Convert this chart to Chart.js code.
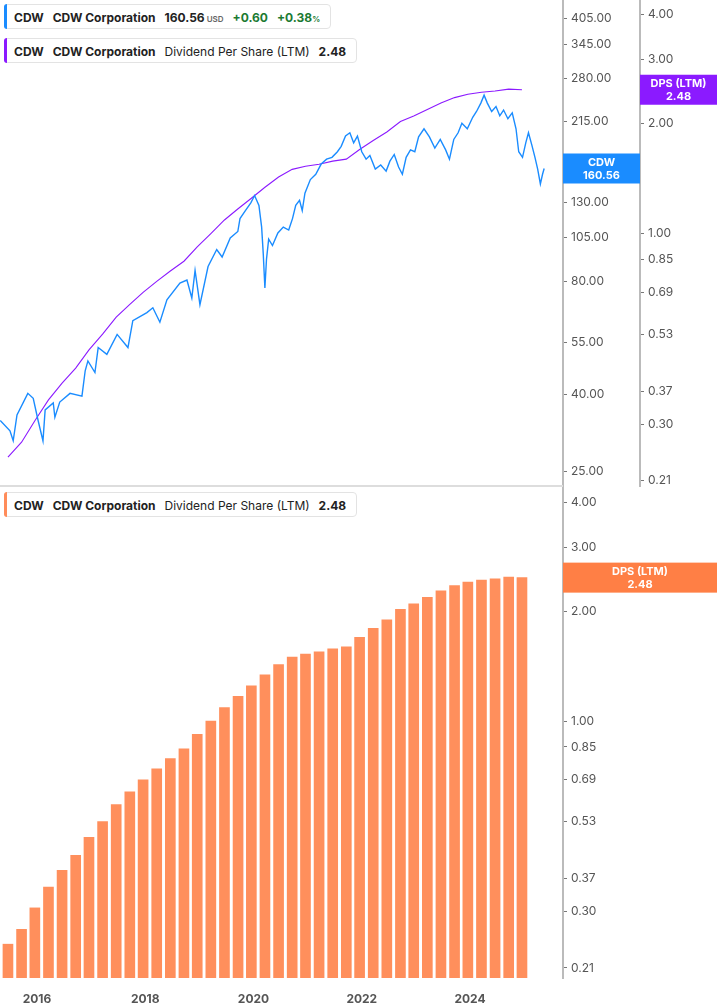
<!DOCTYPE html>
<html><head><meta charset="utf-8">
<script src="https://cdn.jsdelivr.net/npm/chart.js@4.4.1/dist/chart.umd.min.js"></script>
<style>
body{margin:0;background:#fff;font-family:Inter,"Noto Sans",sans-serif;width:717px;height:1005px;overflow:hidden;position:relative}
.c{position:absolute;left:0}
.hdr{position:absolute;left:4px;height:25px;border:1px solid #e3e3e3;border-radius:4px;background:#fff;font-size:12px;line-height:25px;color:#222;white-space:nowrap;padding:0 10px 0 9px;box-sizing:border-box}
.hdr:before{content:"";position:absolute;left:-1px;top:-1px;bottom:-1px;width:3px;border-radius:3px 0 0 3px;background:var(--c)}
.hdr span{margin-right:9px}.hdr span:last-child{margin-right:0}
.b{font-weight:700}.g{color:#1b7a33;font-weight:700}.s{font-size:8px;color:#666;font-weight:600}
</style></head><body>
<canvas id="top" class="c" style="top:0" width="717" height="487"></canvas>
<canvas id="bot" class="c" style="top:487px" width="717" height="518"></canvas>
<div class="hdr" style="top:4px;--c:#1a8cff"><span class="b">CDW</span><span class="b">CDW Corporation</span><span class="b" style="margin-right:2px">160.56</span><span class="s">USD</span><span class="g">+0.60</span><span class="g" style="margin-right:0">+0.38</span><span class="s" style="color:#1b7a33">%</span></div>
<div class="hdr" style="top:38px;--c:#8b1aff"><span class="b">CDW</span><span class="b">CDW Corporation</span><span>Dividend Per Share (LTM)</span><span class="b">2.48</span></div>
<div class="hdr" style="top:492px;--c:#ff8c5a"><span class="b">CDW</span><span class="b">CDW Corporation</span><span>Dividend Per Share (LTM)</span><span class="b">2.48</span></div>
<script>
const priceDates=[2015.32,2015.50,2015.56,2015.63,2015.83,2015.93,2016.02,2016.11,2016.15,2016.30,2016.33,2016.42,2016.61,2016.83,2016.89,2016.94,2017.07,2017.13,2017.29,2017.48,2017.68,2017.77,2018.03,2018.14,2018.27,2018.40,2018.64,2018.77,2018.86,2018.92,2019.01,2019.16,2019.32,2019.42,2019.57,2019.71,2019.75,2019.85,2019.95,2020.02,2020.10,2020.15,2020.18,2020.21,2020.24,2020.28,2020.35,2020.45,2020.55,2020.65,2020.72,2020.78,2020.85,2020.90,2020.95,2021.05,2021.15,2021.25,2021.35,2021.45,2021.55,2021.62,2021.70,2021.78,2021.85,2021.92,2022.00,2022.08,2022.15,2022.25,2022.35,2022.45,2022.52,2022.60,2022.68,2022.75,2022.82,2022.90,2022.98,2023.05,2023.15,2023.25,2023.35,2023.45,2023.55,2023.62,2023.70,2023.78,2023.85,2023.95,2024.05,2024.12,2024.20,2024.26,2024.32,2024.40,2024.48,2024.55,2024.62,2024.70,2024.78,2024.85,2024.90,2024.97,2025.03,2025.08,2025.14,2025.20,2025.25,2025.30,2025.34,2025.37];
const priceValues=[34.1,32.0,30.1,35.3,40.3,39.1,34.1,30.1,36.4,38.0,34.8,38.2,40.3,39.6,46.3,49.2,45.8,53.4,51.2,57.9,53.4,63.0,66.2,68.2,62.4,71.6,79.4,80.9,72.4,85.8,69.5,87.9,97.6,93.2,104.7,109,118,124,130,136,128,112,95,77,92,104,100,108,112,110,118,128,132,124,138,150,155,165,170,172,178,184,196,200,188,196,178,170,174,160,164,158,168,175,162,155,172,180,178,195,205,195,182,192,180,170,192,200,212,205,220,228,240,252,240,228,235,222,230,218,226,205,178,172,188,200,186,172,160,146,155,160.56];
const dpsQuarters=['2015Q3','2015Q4','2016Q1','2016Q2','2016Q3','2016Q4','2017Q1','2017Q2','2017Q3','2017Q4','2018Q1','2018Q2','2018Q3','2018Q4','2019Q1','2019Q2','2019Q3','2019Q4','2020Q1','2020Q2','2020Q3','2020Q4','2021Q1','2021Q2','2021Q3','2021Q4','2022Q1','2022Q2','2022Q3','2022Q4','2023Q1','2023Q2','2023Q3','2023Q4','2024Q1','2024Q2','2024Q3','2024Q4','2025Q1'];
const dpsValues=[0.244,0.268,0.307,0.35,0.389,0.428,0.48,0.53,0.59,0.64,0.69,0.74,0.79,0.84,0.92,1.00,1.09,1.17,1.25,1.34,1.43,1.50,1.53,1.55,1.58,1.60,1.70,1.80,1.90,2.03,2.10,2.19,2.28,2.36,2.41,2.44,2.46,2.49,2.48];
const priceTicks=[25,40,55,80,105,130,215,280,345,405];
const dpsTicks=[0.21,0.30,0.37,0.53,0.69,0.85,1.00,2.00,3.00,4.00];
const yearTicks=[2016,2018,2020,2022,2024];

const qYear=q=>+q.slice(0,4)+(+q.slice(5)-1)*0.2515-0.04;
const dpsPts=dpsQuarters.map((q,i)=>({x:qYear(q),y:dpsValues[i]}));
const pricePts=priceDates.map((d,i)=>({x:d,y:priceValues[i]}));
const XMIN=2015.316,XMAX=2025.718;
const F='Inter, "Noto Sans", sans-serif';
const tickFont={family:F,size:12};
function fix(w){return function(s){s.width=w;s.paddingTop=0;s.paddingBottom=0;};}
function setTicks(arr){return function(s){s.ticks=arr.map(v=>({value:v}));};}
const axisBase=(min,max,ticks,w)=>({type:'logarithmic',position:'right',min,max,
  afterBuildTicks:setTicks(ticks),afterFit:fix(w),
  grid:{display:true,drawOnChartArea:false,drawTicks:true,tickLength:4,color:'#777'},
  border:{display:true,color:'#bbb',width:2},
  ticks:{autoSkip:false,padding:4,color:'#555',font:tickFont,callback:v=>(+v).toFixed(2)}});
function badge(ctx,x,w,y,color,l1,l2){
  ctx.save();ctx.fillStyle=color;ctx.fillRect(x,y-15,w,30);
  ctx.fillStyle='#fff';ctx.font='bold 11px '+F;ctx.textAlign='center';ctx.textBaseline='middle';
  ctx.fillText(l1,x+w/2,y-6);ctx.fillText(l2,x+w/2,y+7);ctx.restore();}
const badgesTop={id:'bt',afterDraw(c){const ctx=c.ctx;
  const sy=c.scales.y.getPixelForValue(160.56);badge(ctx,c.scales.y.left,77,sy,'#1a8cff','CDW','160.56');
  const dy=c.scales.y2.getPixelForValue(2.48);badge(ctx,c.scales.y2.left,77,dy,'#8b1aff','DPS (LTM)','2.48');
  ctx.save();ctx.strokeStyle='#ddd';ctx.lineWidth=2;ctx.beginPath();ctx.moveTo(0,486);ctx.lineTo(c.scales.y.left,486);ctx.stroke();ctx.restore();}};
new Chart(document.getElementById('top'),{type:'line',
  data:{datasets:[
    {data:pricePts,yAxisID:'y',borderColor:'#1a8cff',borderWidth:1.4,pointRadius:0,tension:0},
    {data:dpsPts,yAxisID:'y2',borderColor:'#8b1aff',borderWidth:1.1,pointRadius:0,tension:0}]},
  options:{responsive:false,animation:false,layout:{padding:0},plugins:{legend:{display:false},tooltip:{enabled:false}},
    scales:{x:{type:'linear',min:XMIN,max:XMAX,display:false},
      y:axisBase(22.66,452.4,priceTicks,77),
      y2:axisBase(0.202,4.37,dpsTicks,77)}},plugins:[badgesTop]});
const badgesBot={id:'bb',afterDraw(c){const y=c.scales.y.getPixelForValue(2.48);badge(c.ctx,c.scales.y.left,154,y,'#ff7f45','DPS (LTM)','2.48');}};
new Chart(document.getElementById('bot'),{type:'bar',
  data:{datasets:[{data:dpsPts,backgroundColor:'#ff8f5c',barThickness:10}]},
  options:{responsive:false,animation:false,layout:{padding:0},plugins:{legend:{display:false},tooltip:{enabled:false}},
    scales:{x:{type:'linear',min:XMIN,max:XMAX,offset:false,afterBuildTicks:setTicks(yearTicks),afterFit:s=>{s.height=27;s.paddingLeft=0;s.paddingRight=0;},
        grid:{display:false,offset:false},border:{display:false},
        ticks:{autoSkip:false,color:'#555',font:{family:F,size:12,weight:'bold'},padding:6,callback:v=>String(v)}},
      y:axisBase(0.197,4.40,dpsTicks,154)}},plugins:[badgesBot]});
</script></body></html>
